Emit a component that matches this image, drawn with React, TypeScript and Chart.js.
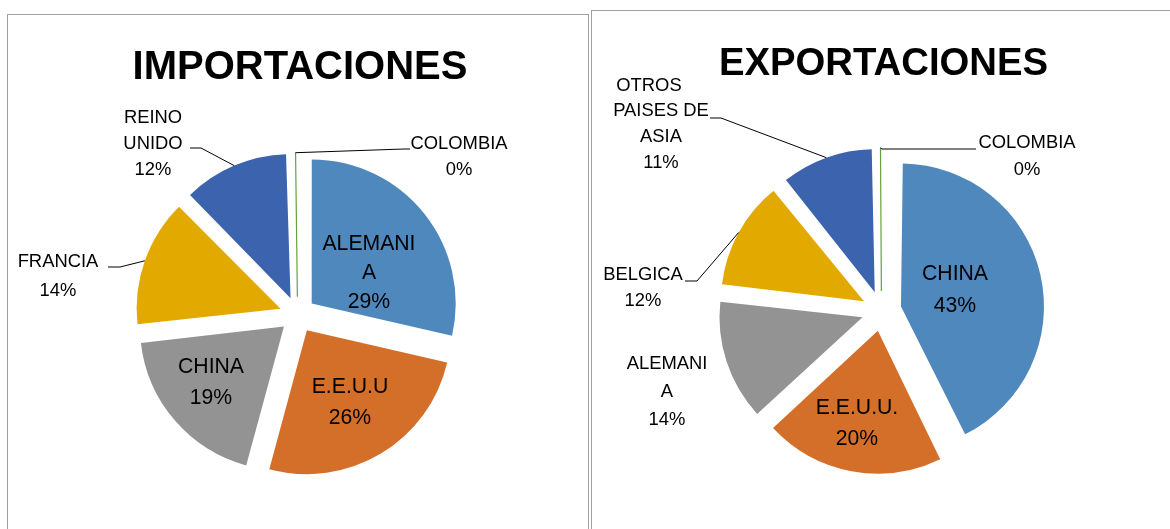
import React, { useEffect, useRef } from 'react';
import { Chart, registerables } from 'chart.js';

Chart.register(...registerables);

// ---------- data ----------
const impCategories = ['ALEMANIA', 'E.E.U.U', 'CHINA', 'FRANCIA', 'REINO UNIDO', 'COLOMBIA'];
const impValues = [28.6, 25.6, 19.0, 14.4, 12.0, 0.4];

const expCategories = ['CHINA', 'E.E.U.U.', 'ALEMANIA', 'BELGICA', 'OTROS PAISES DE ASIA', 'COLOMBIA'];
const expValues = [42.8, 20.3, 13.7, 12.4, 10.6, 0.2];

const sliceColors = ['#4f88bd', '#d46f2a', '#939393', '#e2aa00', '#3c63ad', '#62a23e'];
const sliceBorders = [0, 0, 0, 0, 0, 1.2];

const impTitle = 'IMPORTACIONES';
const expTitle = 'EXPORTACIONES';

// ---------- layout / style ----------
const FONT = '"Liberation Sans", Arial, sans-serif';

type Leader = { ax: number; ay: number; ex: number; ey: number };
type LabelSpec = {
  breaks: number[];
  x: number;
  y: number;
  lh: number;
  size: number;
  lineDx?: number[];
  leader?: Leader;
};

type PieLayout = {
  left: number;
  width: number;
  height: number;
  cx: number;
  cy: number;
  radius: number;
  shift: number;
  title: string;
  titleX: number;
  titleY: number;
  titleSize: number;
  specs: LabelSpec[];
};

const IN = 21.2;
const OUT = 18.4;

const impLayout: PieLayout = {
  left: 0,
  width: 590,
  height: 529,
  cx: 297.6,
  cy: 314.7,
  radius: 144,
  shift: 18,
  title: impTitle,
  titleX: 300,
  titleY: 79,
  titleSize: 40,
  specs: [
    { breaks: [7], x: 369, y: 242, lh: 29, size: IN },
    { breaks: [], x: 350, y: 385, lh: 31.5, size: IN },
    { breaks: [], x: 211, y: 365, lh: 31.5, size: IN },
    { breaks: [], x: 58, y: 260, lh: 29.5, size: OUT, leader: { ax: 108, ay: 267, ex: 120, ey: 267 } },
    { breaks: [5], x: 153, y: 116, lh: 26, size: OUT, leader: { ax: 190, ay: 148, ex: 201, ey: 148 } },
    { breaks: [], x: 459, y: 142, lh: 26, size: OUT, leader: { ax: 410, ay: 149, ex: 404, ey: 149 } },
  ],
};

const expLayout: PieLayout = {
  left: 590,
  width: 580,
  height: 529,
  cx: 881.5,
  cy: 311,
  radius: 143,
  shift: 20,
  title: expTitle,
  titleX: 883.5,
  titleY: 75,
  titleSize: 38.3,
  specs: [
    { breaks: [], x: 955, y: 272, lh: 32, size: IN },
    { breaks: [], x: 857, y: 406, lh: 31, size: IN },
    { breaks: [7], x: 667, y: 362, lh: 28, size: OUT },
    { breaks: [], x: 643, y: 273, lh: 26.5, size: OUT, leader: { ax: 685, ay: 281, ex: 697, ey: 281 } },
    { breaks: [5, 15], x: 661, y: 84, lh: 25.7, size: OUT, lineDx: [-12, 0, 0, 0], leader: { ax: 710, ay: 118, ex: 721, ey: 118 } },
    { breaks: [], x: 1027, y: 141, lh: 27, size: OUT, leader: { ax: 976, ay: 149, ex: 882, ey: 149 } },
  ],
};

function splitName(name: string, breaks: number[]): string[] {
  const out: string[] = [];
  let prev = 0;
  for (const b of breaks) {
    out.push(name.slice(prev, b).trim());
    prev = b;
  }
  out.push(name.slice(prev).trim());
  return out;
}

function makeLabelPlugin(L: PieLayout) {
  return {
    id: 'pieLabels',
    afterDatasetsUpdate(chart: any) {
      const meta = chart.getDatasetMeta(0);
      meta.data.forEach((arc: any) => {
        const circ = arc.endAngle - arc.startAngle;
        const fix = 1 - Math.sin(Math.min(Math.PI, circ));
        arc.outerRadius = L.radius - L.shift * fix;
      });
    },
    afterDraw(chart: any) {
      const ctx = chart.ctx as CanvasRenderingContext2D;
      const meta = chart.getDatasetMeta(0);
      const values: number[] = chart.data.datasets[0].data;
      const names: string[] = chart.data.labels;
      const total = values.reduce((a, b) => a + b, 0);
      ctx.save();
      ctx.fillStyle = '#000';
      ctx.textAlign = 'center';
      ctx.textBaseline = 'alphabetic';
      ctx.font = `bold ${L.titleSize}px ${FONT}`;
      ctx.fillText(L.title, L.titleX - L.left, L.titleY);

      L.specs.forEach((s, i) => {
        const arc = meta.data[i];
        const lines = [...splitName(names[i], s.breaks), Math.round((values[i] / total) * 100) + '%'];
        if (s.leader) {
          const mid = (arc.startAngle + arc.endAngle) / 2;
          const r = L.shift + L.radius;
          const px = arc.x + Math.cos(mid) * r;
          const py = arc.y + Math.sin(mid) * r;
          ctx.beginPath();
          ctx.moveTo(px, py);
          ctx.lineTo(s.leader.ex - L.left, s.leader.ey);
          ctx.lineTo(s.leader.ax - L.left, s.leader.ay);
          ctx.strokeStyle = '#000';
          ctx.lineWidth = 1;
          ctx.stroke();
        }
        ctx.font = `${s.size}px ${FONT}`;
        lines.forEach((ln, k) => {
          const dx = s.lineDx ? s.lineDx[k] || 0 : 0;
          ctx.fillText(ln, s.x - L.left + dx, s.y + k * s.lh + s.size * 0.358);
        });
      });
      ctx.restore();
    },
  };
}

function makePie(canvas: HTMLCanvasElement, labels: string[], values: number[], L: PieLayout) {
  const lcx = L.cx - L.left;
  const padX = 2 * lcx - L.width;
  const padY = 2 * L.cy - L.height;
  return new Chart(canvas, {
    type: 'pie',
    data: {
      labels,
      datasets: [
        {
          data: values,
          backgroundColor: sliceColors,
          borderColor: sliceColors,
          borderWidth: sliceBorders,
          offset: L.shift * 4,
        },
      ],
    },
    options: {
      responsive: false,
      animation: false,
      events: [],
      radius: L.radius,
      layout: {
        padding: {
          left: padX > 0 ? padX : 0,
          right: padX < 0 ? -padX : 0,
          top: padY > 0 ? padY : 0,
          bottom: padY < 0 ? -padY : 0,
        },
      },
      plugins: {
        legend: { display: false },
        tooltip: { enabled: false },
        title: { display: false },
      },
    } as any,
    plugins: [makeLabelPlugin(L) as any],
  });
}

export default function App() {
  const leftRef = useRef<HTMLCanvasElement>(null);
  const rightRef = useRef<HTMLCanvasElement>(null);

  useEffect(() => {
    const a = makePie(leftRef.current!, impCategories, impValues, impLayout);
    const b = makePie(rightRef.current!, expCategories, expValues, expLayout);
    return () => {
      a.destroy();
      b.destroy();
    };
  }, []);

  return (
    <div
      style={{
        position: 'fixed',
        left: 0,
        top: 0,
        width: 1170,
        height: 529,
        background: '#fff',
        overflow: 'hidden',
      }}
    >
      <div
        style={{
          position: 'absolute',
          left: 7,
          top: 14,
          width: 582,
          height: 600,
          border: '1px solid #a0a0a0',
          boxSizing: 'border-box',
        }}
      />
      <div
        style={{
          position: 'absolute',
          left: 591,
          top: 10,
          width: 600,
          height: 600,
          border: '1px solid #a0a0a0',
          boxSizing: 'border-box',
        }}
      />
      <canvas
        ref={leftRef}
        width={impLayout.width}
        height={impLayout.height}
        style={{ position: 'absolute', left: impLayout.left, top: 0 }}
      />
      <canvas
        ref={rightRef}
        width={expLayout.width}
        height={expLayout.height}
        style={{ position: 'absolute', left: expLayout.left, top: 0 }}
      />
    </div>
  );
}
